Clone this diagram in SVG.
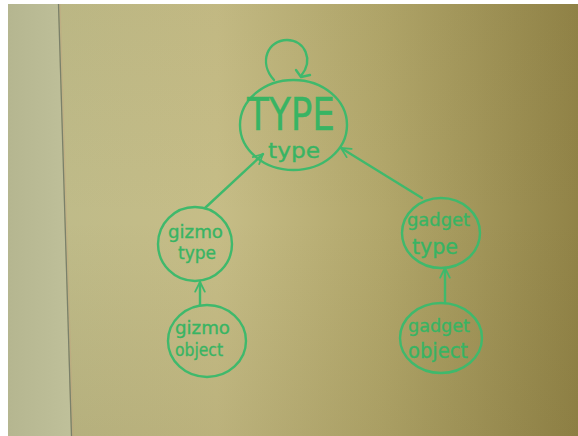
<svg xmlns="http://www.w3.org/2000/svg" width="578" height="436" viewBox="0 0 578 436">
  <defs>
    <linearGradient id="board" x1="62" y1="0" x2="578" y2="0" gradientUnits="userSpaceOnUse">
      <stop offset="0" stop-color="#bfbb89"/>
      <stop offset="0.3" stop-color="#c6bd87"/>
      <stop offset="0.62" stop-color="#b2a76b"/>
      <stop offset="1" stop-color="#918347"/>
    </linearGradient>
    <linearGradient id="shade" x1="0" y1="0" x2="0" y2="1">
      <stop offset="0" stop-color="#6b5e2a" stop-opacity="0.05"/>
      <stop offset="0.5" stop-color="#6b5e2a" stop-opacity="0"/>
      <stop offset="1" stop-color="#6b5e2a" stop-opacity="0.12"/>
    </linearGradient>
    <linearGradient id="frame" x1="0" y1="0" x2="1" y2="0">
      <stop offset="0" stop-color="#b5b690"/>
      <stop offset="1" stop-color="#bfc09a"/>
    </linearGradient>
    <marker id="head" viewBox="0 0 10 10" refX="9" refY="5" markerWidth="5" markerHeight="5" orient="auto" markerUnits="strokeWidth">
      <path d="M1,1 L9,5 L1,9" fill="none" stroke="#3fb96c" stroke-width="1.5" stroke-linecap="round" stroke-linejoin="round"/>
    </marker>
    <style>
      .ink { fill: none; stroke: #3fb96c; stroke-width: 2.4; stroke-linecap: round; stroke-linejoin: round; }
      .hand { fill: #38b463; stroke: #38b463; stroke-width: 0.35; font-family: "DejaVu Sans", "Liberation Sans", sans-serif; text-anchor: start; }
      .big { font-size: 44px; }
      .mid { font-size: 21px; }
      .small { font-size: 18px; }
    </style>
  </defs>

  <!-- photo margins -->
  <rect width="578" height="436" fill="#ffffff"/>
  <!-- whiteboard surface -->
  <rect x="8" y="4" width="570" height="432" fill="url(#board)"/>
  <rect x="8" y="4" width="570" height="432" fill="url(#shade)"/>
  <!-- aluminium frame strip on the left -->
  <polygon points="8,4 58,4 71,436 8,436" fill="url(#frame)"/>
  <line x1="58.5" y1="4" x2="71.5" y2="436" stroke="#7a806a" stroke-width="1.3"/>
  <line x1="60" y1="4" x2="73" y2="436" stroke="#c79a80" stroke-width="0.6" opacity="0.5"/>

  <!-- connectors -->
  <g id="connectors">
    <path class="ink" d="M274,80 C258,62 268,40 287,40 C305,40 314,60 301,76"/>
    <path class="ink" d="M296,70 L301,77 L310,75"/>
    <line class="ink" x1="205" y1="208" x2="263" y2="154" marker-end="url(#head)"/>
    <line class="ink" x1="422" y1="198" x2="341" y2="148" marker-end="url(#head)"/>
    <line class="ink" x1="200" y1="305" x2="200" y2="282" marker-end="url(#head)"/>
    <line class="ink" x1="445" y1="303" x2="445" y2="268" marker-end="url(#head)"/>
  </g>

  <!-- nodes -->
  <g id="type-type">
    <ellipse class="ink" cx="293.5" cy="125" rx="53.5" ry="45"/>
    <text class="hand big" x="247" y="130" textLength="88" lengthAdjust="spacingAndGlyphs">TYPE</text>
    <text class="hand mid" x="268" y="158" textLength="52" lengthAdjust="spacingAndGlyphs">type</text>
  </g>

  <g id="gizmo-type">
    <ellipse class="ink" cx="195" cy="244" rx="37" ry="37"/>
    <text class="hand small" x="168" y="238" textLength="55" lengthAdjust="spacingAndGlyphs">gizmo</text>
    <text class="hand small" x="178" y="259" textLength="38" lengthAdjust="spacingAndGlyphs">type</text>
  </g>

  <g id="gizmo-object">
    <ellipse class="ink" cx="207" cy="341" rx="39" ry="36"/>
    <text class="hand small" x="175" y="334" textLength="55" lengthAdjust="spacingAndGlyphs">gizmo</text>
    <text class="hand small" x="175" y="356" textLength="48" lengthAdjust="spacingAndGlyphs">object</text>
  </g>

  <g id="gadget-type">
    <ellipse class="ink" cx="441" cy="233" rx="39" ry="35"/>
    <text class="hand small" x="407" y="226" textLength="63" lengthAdjust="spacingAndGlyphs">gadget</text>
    <text class="hand mid" x="412" y="254" textLength="46" lengthAdjust="spacingAndGlyphs">type</text>
  </g>

  <g id="gadget-object">
    <ellipse class="ink" cx="441" cy="338" rx="41" ry="35"/>
    <text class="hand small" x="408" y="332" textLength="62" lengthAdjust="spacingAndGlyphs">gadget</text>
    <text class="hand mid" x="408" y="358" textLength="60" lengthAdjust="spacingAndGlyphs">object</text>
  </g>
</svg>
